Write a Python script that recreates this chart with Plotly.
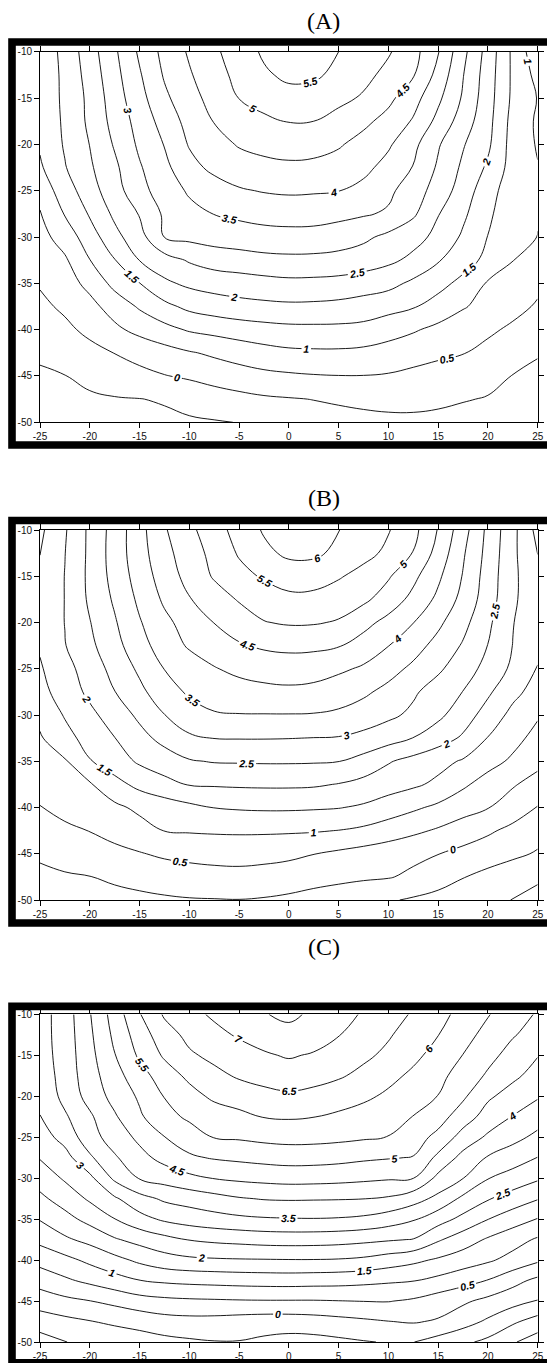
import plotly.graph_objects as go

# ---------------- data ----------------
X = [-25, -22.5, -20, -17.5, -15, -12.5, -10, -7.5, -5, -2.5, 0,
     2.5, 5, 7.5, 10, 12.5, 15, 17.5, 20, 22.5, 25]
Y = [-10, -12.5, -15, -17.5, -20, -22.5, -25, -27.5, -30,
     -32.5, -35, -37.5, -40, -42.5, -45, -47.5, -50]

XTICKS = [-25, -20, -15, -10, -5, 0, 5, 10, 15, 20, 25]
XTICKTEXT = ["-25", "-20", "-15", "-10", "-5", "0", "5", "10", "15", "20", "25"]
YTICKS = [-10, -15, -20, -25, -30, -35, -40, -45, -50]
YTICKTEXT = ["-10", "-15", "-20", "-25", "-30", "-35", "-40", "-45", "-50"]

PANEL_TITLES = ["(A)", "(B)", "(C)"]

Z_A = [
    [1.15, 1.65, 2.28, 2.92, 3.58, 4.15, 4.56, 4.91, 5.26, 5.57, 5.82, 5.75, 5.5, 5.28, 5.05, 4.68, 4.03, 3.14, 2.31, 1.4, 0.65],
    [1.15, 1.61, 2.2, 2.84, 3.45, 4.05, 4.45, 4.81, 5.14, 5.43, 5.6, 5.58, 5.38, 5.14, 4.86, 4.54, 3.84, 3.02, 2.25, 1.41, 0.85],
    [1.15, 1.6, 2.12, 2.76, 3.33, 3.9, 4.32, 4.68, 5.01, 5.2, 5.33, 5.28, 5.13, 4.94, 4.62, 4.19, 3.6, 2.94, 2.21, 1.4, 0.98],
    [1.12, 1.58, 2.1, 2.67, 3.19, 3.7, 4.17, 4.52, 4.71, 4.9, 5.02, 5.0, 4.82, 4.61, 4.34, 3.95, 3.36, 2.76, 2.16, 1.33, 0.93],
    [1.06, 1.55, 2.01, 2.55, 3.09, 3.52, 4.04, 4.32, 4.54, 4.65, 4.72, 4.68, 4.55, 4.33, 4.07, 3.63, 3.05, 2.54, 2.09, 1.3, 0.96],
    [0.93, 1.47, 1.93, 2.4, 2.95, 3.38, 3.83, 4.13, 4.28, 4.36, 4.4, 4.38, 4.3, 4.13, 3.83, 3.48, 2.93, 2.41, 1.92, 1.3, 1.02],
    [0.7, 1.25, 1.79, 2.3, 2.83, 3.25, 3.56, 3.75, 3.95, 4.03, 4.07, 4.05, 4.01, 3.86, 3.6, 3.25, 2.78, 2.28, 1.68, 1.25, 1.04],
    [0.46, 1.03, 1.55, 2.1, 2.53, 3.08, 3.36, 3.51, 3.6, 3.67, 3.7, 3.69, 3.63, 3.55, 3.44, 3.08, 2.52, 2.1, 1.57, 1.25, 1.03],
    [0.33, 0.72, 1.26, 1.85, 2.31, 3.01, 3.12, 3.2, 3.26, 3.32, 3.34, 3.33, 3.25, 3.1, 2.88, 2.66, 2.38, 1.92, 1.49, 1.23, 0.99],
    [0.19, 0.43, 0.99, 1.48, 2.01, 2.29, 2.55, 2.72, 2.78, 2.85, 2.88, 2.87, 2.83, 2.75, 2.6, 2.39, 2.04, 1.71, 1.37, 1.01, 0.85],
    [0.04, 0.3, 0.63, 1.15, 1.49, 1.91, 2.1, 2.2, 2.27, 2.33, 2.38, 2.37, 2.34, 2.25, 2.15, 1.9, 1.66, 1.36, 0.95, 0.7, 0.6],
    [-0.1, 0.08, 0.36, 0.7, 1.06, 1.37, 1.62, 1.75, 1.83, 1.88, 1.91, 1.9, 1.86, 1.78, 1.67, 1.54, 1.3, 1.04, 0.84, 0.64, 0.45],
    [-0.24, -0.1, 0.11, 0.4, 0.64, 0.85, 1.05, 1.15, 1.25, 1.32, 1.37, 1.38, 1.38, 1.35, 1.2, 1.05, 0.88, 0.73, 0.58, 0.42, 0.3],
    [-0.42, -0.28, -0.14, 0.01, 0.16, 0.31, 0.46, 0.58, 0.7, 0.82, 0.9, 0.92, 0.92, 0.88, 0.8, 0.7, 0.6, 0.52, 0.37, 0.19, 0.05],
    [-0.57, -0.51, -0.38, -0.26, -0.13, -0.02, 0.07, 0.2, 0.3, 0.38, 0.43, 0.47, 0.49, 0.49, 0.46, 0.38, 0.3, 0.2, 0.1, -0.01, -0.15],
    [-0.65, -0.61, -0.57, -0.53, -0.51, -0.46, -0.35, -0.25, -0.15, -0.07, -0.03, 0.01, 0.05, 0.08, 0.09, 0.08, 0.06, 0.02, -0.02, -0.1, -0.3],
    [-0.72, -0.7, -0.68, -0.66, -0.64, -0.6, -0.56, -0.53, -0.49, -0.37, -0.28, -0.2, -0.14, -0.1, -0.07, -0.06, -0.08, -0.12, -0.18, -0.28, -0.4],
]

Z_B = [
    [1.4, 1.95, 2.6, 3.2, 3.83, 4.45, 4.88, 5.29, 5.69, 6.05, 6.25, 6.22, 6.01, 5.77, 5.53, 5.15, 4.47, 3.7, 2.88, 2.14, 1.35],
    [1.49, 1.99, 2.6, 3.22, 3.8, 4.35, 4.76, 5.15, 5.55, 5.88, 6.1, 6.1, 5.88, 5.66, 5.39, 4.98, 4.32, 3.56, 2.84, 2.11, 1.49],
    [1.6, 2.01, 2.61, 3.17, 3.72, 4.23, 4.67, 5.05, 5.34, 5.56, 5.72, 5.7, 5.55, 5.32, 5.05, 4.62, 4.09, 3.47, 2.78, 2.1, 1.65],
    [1.62, 2.01, 2.58, 3.07, 3.6, 4.08, 4.47, 4.77, 5.04, 5.22, 5.38, 5.37, 5.22, 5.1, 4.77, 4.36, 3.89, 3.35, 2.74, 2.08, 1.68],
    [1.62, 2.01, 2.48, 2.95, 3.46, 3.88, 4.21, 4.51, 4.75, 4.98, 5.05, 5.04, 4.96, 4.65, 4.35, 4.01, 3.6, 3.15, 2.6, 2.02, 1.65],
    [1.55, 1.98, 2.39, 2.83, 3.32, 3.73, 4.06, 4.25, 4.45, 4.57, 4.62, 4.6, 4.53, 4.3, 4.01, 3.69, 3.34, 2.95, 2.49, 1.99, 1.6],
    [1.45, 1.83, 2.23, 2.66, 3.09, 3.51, 3.74, 3.97, 4.12, 4.2, 4.24, 4.22, 4.09, 3.93, 3.67, 3.4, 3.08, 2.73, 2.34, 1.9, 1.48],
    [1.35, 1.72, 2.11, 2.49, 2.88, 3.29, 3.57, 3.7, 3.8, 3.87, 3.9, 3.85, 3.72, 3.58, 3.37, 3.07, 2.78, 2.49, 2.08, 1.64, 1.3],
    [1.12, 1.54, 1.88, 2.23, 2.6, 2.99, 3.3, 3.46, 3.48, 3.48, 3.48, 3.47, 3.42, 3.29, 3.1, 2.9, 2.61, 2.23, 1.8, 1.36, 1.05],
    [0.95, 1.33, 1.69, 1.99, 2.34, 2.65, 2.92, 3.01, 3.02, 3.02, 3.01, 2.99, 2.97, 2.85, 2.7, 2.49, 2.22, 1.93, 1.48, 1.15, 0.85],
    [0.8, 0.95, 1.47, 1.77, 2.07, 2.26, 2.46, 2.53, 2.54, 2.55, 2.55, 2.54, 2.51, 2.33, 2.04, 1.84, 1.65, 1.45, 1.17, 0.92, 0.65],
    [0.6, 0.78, 0.95, 1.33, 1.64, 1.85, 2.03, 2.05, 2.07, 2.08, 2.08, 2.06, 1.98, 1.85, 1.72, 1.58, 1.4, 1.08, 0.8, 0.55, 0.3],
    [0.49, 0.62, 0.75, 0.9, 1.1, 1.24, 1.38, 1.51, 1.55, 1.57, 1.57, 1.55, 1.52, 1.43, 1.25, 1.08, 0.9, 0.7, 0.52, 0.25, -0.02],
    [0.3, 0.42, 0.51, 0.65, 0.82, 1.01, 1.04, 1.06, 1.07, 1.07, 1.06, 1.04, 0.99, 0.9, 0.76, 0.6, 0.44, 0.25, 0.07, -0.12, -0.3],
    [0.08, 0.18, 0.28, 0.38, 0.47, 0.58, 0.64, 0.67, 0.68, 0.65, 0.6, 0.51, 0.41, 0.31, 0.21, 0.11, 0.01, -0.13, -0.25, -0.39, -0.55],
    [-0.12, -0.05, -0.01, 0.08, 0.15, 0.22, 0.28, 0.33, 0.35, 0.32, 0.27, 0.2, 0.13, 0.07, 0.03, -0.09, -0.27, -0.48, -0.65, -0.82, -0.95],
    [-0.3, -0.25, -0.2, -0.15, -0.1, -0.06, -0.03, -0.02, -0.01, -0.04, -0.1, -0.2, -0.28, -0.36, -0.45, -0.56, -0.67, -0.78, -0.9, -1.01, -1.1],
]

Z_C = [
    [3.3, 3.74, 4.47, 5.22, 5.97, 6.56, 6.85, 7.08, 7.26, 7.47, 7.62, 7.4, 7.18, 6.95, 6.7, 6.45, 6.15, 5.85, 5.53, 5.23, 4.95],
    [3.3, 3.73, 4.41, 5.11, 5.75, 6.29, 6.63, 6.86, 7.06, 7.22, 7.32, 7.25, 7.02, 6.77, 6.55, 6.28, 6.01, 5.67, 5.35, 5.04, 4.8],
    [3.27, 3.72, 4.35, 4.98, 5.58, 6.07, 6.43, 6.62, 6.78, 6.94, 7.05, 6.95, 6.77, 6.6, 6.39, 6.12, 5.82, 5.49, 5.15, 4.82, 4.52],
    [3.2, 3.7, 4.29, 4.81, 5.3, 5.75, 6.11, 6.37, 6.56, 6.67, 6.74, 6.68, 6.56, 6.37, 6.14, 5.9, 5.63, 5.3, 4.93, 4.6, 4.32],
    [3.1, 3.65, 4.18, 4.67, 5.07, 5.52, 5.82, 6.1, 6.22, 6.35, 6.42, 6.35, 6.22, 6.1, 5.91, 5.7, 5.49, 5.08, 4.58, 4.3, 4.05],
    [2.99, 3.43, 3.92, 4.44, 4.93, 5.33, 5.59, 5.74, 5.88, 6.02, 6.05, 6.01, 5.92, 5.79, 5.66, 5.49, 5.2, 4.75, 4.29, 3.98, 3.72],
    [2.78, 3.17, 3.8, 4.23, 4.61, 4.99, 5.25, 5.52, 5.56, 5.63, 5.67, 5.66, 5.62, 5.56, 5.49, 5.21, 4.87, 4.3, 3.92, 3.65, 3.38],
    [2.53, 2.82, 3.42, 3.94, 4.34, 4.66, 4.93, 5.04, 5.1, 5.16, 5.2, 5.19, 5.15, 5.08, 5.03, 4.98, 4.38, 3.84, 3.46, 3.23, 2.99],
    [2.22, 2.56, 2.88, 3.6, 4.03, 4.2, 4.38, 4.52, 4.6, 4.65, 4.69, 4.68, 4.65, 4.6, 4.55, 4.51, 3.87, 3.51, 3.02, 2.8, 2.57],
    [1.89, 2.22, 2.57, 2.93, 3.33, 3.58, 3.7, 3.83, 3.96, 4.03, 4.05, 4.04, 4.03, 4.01, 3.94, 3.7, 3.37, 2.89, 2.54, 2.28, 2.03],
    [1.53, 1.83, 2.16, 2.49, 2.83, 3.08, 3.22, 3.32, 3.4, 3.45, 3.47, 3.48, 3.46, 3.4, 3.25, 3.05, 2.71, 2.36, 2.01, 1.73, 1.48],
    [1.13, 1.42, 1.64, 1.95, 2.16, 2.35, 2.52, 2.6, 2.65, 2.7, 2.72, 2.71, 2.68, 2.62, 2.55, 2.48, 2.06, 1.74, 1.44, 1.19, 0.94],
    [0.67, 0.86, 1.11, 1.35, 1.6, 1.8, 1.9, 1.94, 1.96, 1.97, 1.98, 1.98, 1.96, 1.9, 1.76, 1.61, 1.43, 1.25, 1.07, 0.84, 0.58],
    [0.2, 0.42, 0.61, 0.81, 0.99, 1.08, 1.13, 1.16, 1.19, 1.21, 1.22, 1.2, 1.18, 1.13, 1.07, 1.02, 0.87, 0.68, 0.48, 0.16, -0.12],
    [-0.27, -0.12, -0.01, 0.13, 0.3, 0.38, 0.42, 0.44, 0.46, 0.47, 0.47, 0.47, 0.49, 0.51, 0.52, 0.43, 0.25, 0.08, -0.13, -0.32, -0.52],
    [-0.75, -0.63, -0.52, -0.42, -0.33, -0.2, -0.16, -0.17, -0.22, -0.26, -0.26, -0.22, -0.15, -0.08, -0.01, 0.04, -0.05, -0.3, -0.58, -0.92, -1.2],
    [-1.22, -1.01, -0.9, -0.8, -0.72, -0.64, -0.57, -0.52, -0.52, -0.6, -0.67, -0.66, -0.6, -0.53, -0.47, -0.49, -0.7, -0.9, -1.12, -1.45, -1.75],
]

PANELS = [Z_A, Z_B, Z_C]

# ---------------- layout geometry (pixels) ----------------
W, H = 547, 1363
PLOT_X = (40.0, 537.7)
PLOT_Y = [(51.7, 422.3), (530.0, 900.0), (1014.3, 1342.0)]
FRAME = [(42.0, 445.0), (520.5, 923.0), (1006.4, 1362.8)]
TITLE_Y = [20.7, 498.3, 946.5]
TITLE_X = 323.5


def px(v):
    return v / W


def py(v):
    return 1 - v / H


fig = go.Figure()
label_font = dict(family="Liberation Sans, Arial, sans-serif", size=10.5,
                  color="black", weight="bold", style="italic")

for i, Z in enumerate(PANELS):
    n = "" if i == 0 else str(i + 1)
    ya = Y[::-1]
    za = Z[::-1]
    fig.add_trace(go.Contour(
        x=X, y=ya, z=za, xaxis="x" + n, yaxis="y" + n,
        contours=dict(start=0, end=8, size=0.5, coloring="none",
                      showlabels=True, labelfont=label_font),
        line=dict(color="black", width=0.9, smoothing=1.2),
        showscale=False, hoverinfo="skip"))
    fig.add_trace(go.Contour(
        x=X, y=ya, z=za, xaxis="x" + n, yaxis="y" + n,
        contours=dict(start=-2, end=-0.5, size=0.5, coloring="none",
                      showlabels=False),
        line=dict(color="black", width=0.9, smoothing=1.2),
        showscale=False, hoverinfo="skip"))

tickfont = dict(family="Liberation Sans, Arial, sans-serif", size=10, color="#111")
axis_common = dict(ticks="outside", ticklen=5, tickwidth=1, tickcolor="black",
                   showline=True, linecolor="black", linewidth=1, mirror="ticks",
                   showgrid=False, zeroline=False, tickfont=tickfont,
                   tickmode="array", fixedrange=True, automargin=False)

layout = dict(width=W, height=H, margin=dict(l=0, r=0, t=0, b=0, pad=0, autoexpand=False),
              paper_bgcolor="white", plot_bgcolor="white", showlegend=False)

shapes = []
annotations = []
for i in range(3):
    n = "" if i == 0 else str(i + 1)
    top, bot = PLOT_Y[i]
    layout["xaxis" + n] = dict(domain=[px(PLOT_X[0]), px(PLOT_X[1])], range=[-25, 25],
                               tickvals=XTICKS, ticktext=XTICKTEXT,
                               anchor="y" + n, **axis_common)
    layout["yaxis" + n] = dict(domain=[py(bot), py(top)], range=[-50, -10],
                               tickvals=YTICKS, ticktext=YTICKTEXT,
                               anchor="x" + n, **axis_common)
    ft, fb = FRAME[i]
    shapes.append(dict(type="rect", xref="paper", yref="paper",
                       x0=px(12.0), x1=px(575.0), y0=py(fb), y1=py(ft),
                       line=dict(color="black", width=7.6), fillcolor="rgba(0,0,0,0)"))
    annotations.append(dict(text=PANEL_TITLES[i], xref="paper", yref="paper",
                            x=px(TITLE_X), y=py(TITLE_Y[i]), xanchor="center",
                            yanchor="middle", showarrow=False,
                            font=dict(family="Liberation Serif, Times New Roman, serif",
                                      size=24, color="black")))

layout["shapes"] = shapes
layout["annotations"] = annotations
fig.update_layout(**layout)

PIN_PAGE = (
    "document.documentElement.style.margin='0px';"
    "document.documentElement.style.padding='0px';"
    "document.documentElement.style.overflow='hidden';"
    "document.body.style.margin='0px';"
    "document.body.style.padding='0px';"
    "document.body.style.overflow='hidden';"
    "var gd=document.getElementsByClassName('plotly-graph-div')[0];"
    "gd.style.position='fixed';gd.style.left='0px';gd.style.top='0px';"
)
fig.write_html("out.html", config={"displayModeBar": False}, post_script=PIN_PAGE)
